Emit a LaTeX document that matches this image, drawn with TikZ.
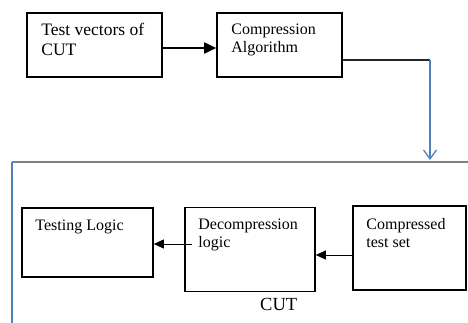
\documentclass[tikz,border=0pt]{standalone}
\usepackage{fontspec}
\setmainfont{Liberation Serif}
\usetikzlibrary{arrows.meta,positioning}

\begin{document}
\begin{tikzpicture}[x=1pt, y=-1pt,
    block/.style={rectangle, draw=black, line width=1.6pt, inner sep=0pt},
    blocktext/.style={inner sep=0pt, align=left, font=\fontsize{16}{18}\selectfont},
    flow/.style={line width=0.9pt, draw=black, -{Triangle[length=10pt, width=9pt]}},
    feed/.style={line width=1.3pt, draw=cutblue, -{Straight Barb[length=9pt, width=13pt, line width=1.3pt]}}
]

% Define colors
\definecolor{cutblue}{RGB}{79,129,189}      % Office Blue
\definecolor{cutgray}{RGB}{128,128,128}     % Gray

\useasboundingbox (0,0) rectangle (468,322);
\clip (0,0) rectangle (468,322);

% Top Row - Off-chip Blocks
\node[block, minimum width=135pt, minimum height=64pt] (vectors) at (94.5,45) {};
\node[blocktext, font=\fontsize{17.5}{20}\selectfont, below right=11pt and 15pt of vectors.north west] (vectorstext) {Test vectors of\\CUT};

\node[block, minimum width=125pt, minimum height=64pt] (algorithm) at (279.5,45) {};
\node[blocktext, below right=12pt and 15pt of algorithm.north west] (algorithmtext) {Compression\\Algorithm};

% CUT Frame
\coordinate (cutnw) at (12,162);
\coordinate (cutne) at (472,162);
\coordinate (cutsw) at (12,326);
\draw[cutgray, line width=1.3pt] (cutnw) -- (cutne);
\draw[cutblue, line width=1.3pt] (cutnw) -- (cutsw);

% Bottom Row - On-chip Blocks
\node[block, minimum width=131pt, minimum height=69pt] (testing) at (87.5,242.5) {};
\node[blocktext, below right=12pt and 14pt of testing.north west] (testingtext) {Testing Logic};

\node[block, minimum width=130pt, minimum height=84pt] (decomp) at (250,249.5) {};
\node[blocktext, below right=12pt and 14pt of decomp.north west] (decomptext) {Decompression\\logic};

\node[block, minimum width=113pt, minimum height=84pt] (compressed) at (409.5,248) {};
\node[blocktext, below right=13pt and 14pt of compressed.north west] (compressedtext) {Compressed\\test set};

\node[inner sep=0pt, anchor=base west, font=\fontsize{18.5}{20}\selectfont] (cutlabel) at (260,310) {CUT};

% Connections
\draw[line width=1.8pt, -{Triangle[length=12pt, width=11pt]}] ([yshift=-3pt]vectors.east) -- ([yshift=-3pt]algorithm.west);
\coordinate (turn) at (430,60);
\coordinate (drop) at (430,160);
\draw[line width=1.1pt, black!85] ([yshift=-15pt]algorithm.east) -- (turn);
\draw[feed] (turn) -- (drop);
\draw[flow] ([yshift=-7pt]compressed.west) -- ([yshift=-7pt]compressed.west -| decomp.east);
\coordinate (dstart) at (192,244);
\draw[flow] (dstart) -- (dstart -| testing.east);

\end{tikzpicture}
\end{document}
